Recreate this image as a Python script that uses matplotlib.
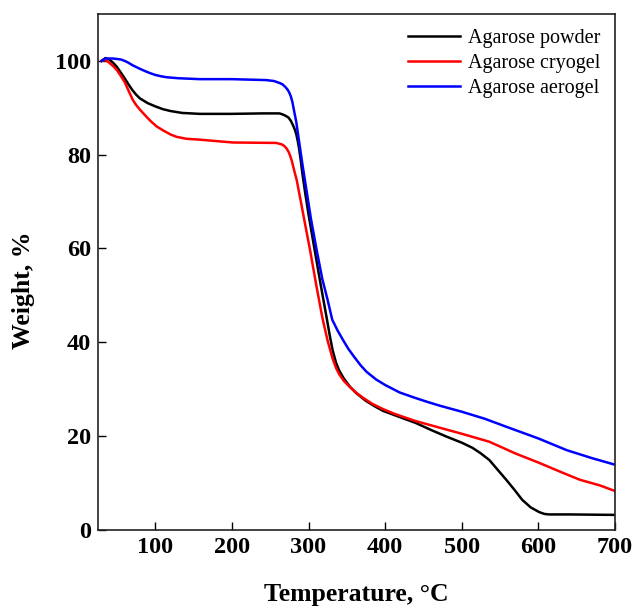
import matplotlib
matplotlib.use("Agg")
import matplotlib.pyplot as plt

# TGA curves
powder_t = [30, 35, 40, 45, 50, 55, 60, 65, 70, 75, 80, 90, 100, 110, 120, 135, 158, 200, 240,
            250, 262, 266, 270, 274, 277, 280, 282, 284, 286, 288, 290, 292, 296, 300, 304, 308,
            316, 323.6, 328, 331.5, 336, 340, 346, 353.7, 362, 375, 387, 397, 420, 440, 460, 480,
            500, 514, 525, 536, 547, 558, 569, 579, 590, 601, 608, 614, 640, 700]
powder_w = [100, 100.6, 100.3, 99.6, 98.7, 97.5, 96.3, 95.0, 93.8, 92.8, 92.0, 91.0, 90.3, 89.7,
            89.3, 88.9, 88.7, 88.7, 88.8, 88.8, 88.8, 88.6, 88.3, 87.9, 87.2, 86.2, 85.4, 84.4,
            82.9, 81.0, 78.6, 76.0, 71.5, 67.3, 63.5, 59.7, 52.2, 45.3, 41.2, 38.3, 35.6, 34.0,
            32.3, 30.6, 29.2, 27.5, 26.3, 25.4, 24.0, 22.8, 21.3, 19.9, 18.6, 17.5, 16.3, 14.9,
            12.8, 10.7, 8.5, 6.4, 4.8, 3.8, 3.4, 3.3, 3.3, 3.2]

cryogel_t = [30, 35, 40, 45, 50, 55, 60, 65, 70.6, 75, 80, 89, 95, 102, 110, 120, 128, 140, 158,
             201, 258, 265, 268, 271, 274, 276, 278, 280, 282, 284.6, 290, 296, 302, 310, 318,
             325, 331.5, 336, 340, 346, 353.7, 362, 370, 383, 396.7, 410, 420, 440, 471, 500,
             536, 570, 601, 630, 654, 680, 700]
cryogel_w = [100, 100.2, 99.6, 98.9, 98.0, 96.8, 95.5, 93.7, 91.7, 90.6, 89.6, 88.0, 87.0, 86.0,
             85.2, 84.3, 83.8, 83.4, 83.2, 82.6, 82.5, 82.2, 81.9, 81.4, 80.6, 79.8, 78.8, 77.5,
             76.2, 74.6, 70.0, 64.8, 59.7, 52.3, 45.3, 40.3, 36.5, 34.5, 33.2, 31.8, 30.5, 29.3,
             28.3, 26.9, 25.8, 24.9, 24.3, 23.2, 21.8, 20.5, 18.8, 16.3, 14.3, 12.3, 10.7, 9.5,
             8.3]

aerogel_t = [30, 35, 45, 55, 60, 65, 70, 75, 80, 87, 93, 100, 108, 115, 130, 158, 200, 245, 255,
             262, 266, 270, 273, 275, 277, 279, 281, 284, 288, 292, 297, 303, 310.6, 318, 325,
             331, 338, 345, 352, 360, 368, 375.8, 388, 400, 419, 440, 455, 471, 500, 530, 558,
             600, 637, 670, 700]
aerogel_w = [100, 100.5, 100.5, 100.3, 100.0, 99.6, 99.1, 98.7, 98.3, 97.8, 97.4, 97.0, 96.7,
             96.5, 96.3, 96.1, 96.1, 95.9, 95.7, 95.3, 95.0, 94.4, 93.8, 93.2, 92.4, 91.2, 89.5,
             87.0, 82.5, 78.0, 72.8, 66.5, 59.7, 53.5, 49.0, 44.8, 42.5, 40.5, 38.6, 36.8, 35.1,
             33.7, 32.1, 30.9, 29.3, 28.1, 27.3, 26.5, 25.2, 23.7, 22.0, 19.5, 17.0, 15.3, 13.9]

series = [
    ("Agarose powder", powder_t, powder_w, "black"),
    ("Agarose cryogel", cryogel_t, cryogel_w, "#ff0000"),
    ("Agarose aerogel", aerogel_t, aerogel_w, "#0000ff"),
]

plt.rcParams['font.family'] = ['Liberation Serif', 'DejaVu Serif']

fig = plt.figure(figsize=(6.35, 6.07), dpi=100)
ax = fig.add_axes([0.154, 0.127, 0.8145, 0.85])

for label, t, w, color in series:
    ax.plot(t, w, '-', color=color, lw=1.8, label=label, solid_joinstyle='round')

ax.set_xlim(25, 700)
ax.set_ylim(0, 110)
ax.set_xticks([100, 200, 300, 400, 500, 600, 700])
ax.set_yticks([0, 20, 40, 60, 80, 100])
ax.tick_params(direction='in', length=6, width=1.0, labelsize=17.5, pad=5)
for lbl in ax.get_xticklabels() + ax.get_yticklabels():
    lbl.set_fontweight('bold')
for sp in ax.spines.values():
    sp.set_linewidth(1.2)
    sp.set_color('#222222')

ax.set_xlabel('Temperature, \u00b0C', fontsize=18.5, fontweight='bold')
ax.set_ylabel('Weight, %', fontsize=18.5, fontweight='bold')
ax.xaxis.set_label_coords(0.5, -0.102)
ax.yaxis.set_label_coords(-0.122, 0.465)

ax.legend(loc='upper right', frameon=False, fontsize=14.5, handlelength=2.6,
          handletextpad=0.35, labelspacing=0.3, borderaxespad=0.35)

fig.savefig('out.png', dpi=100)
